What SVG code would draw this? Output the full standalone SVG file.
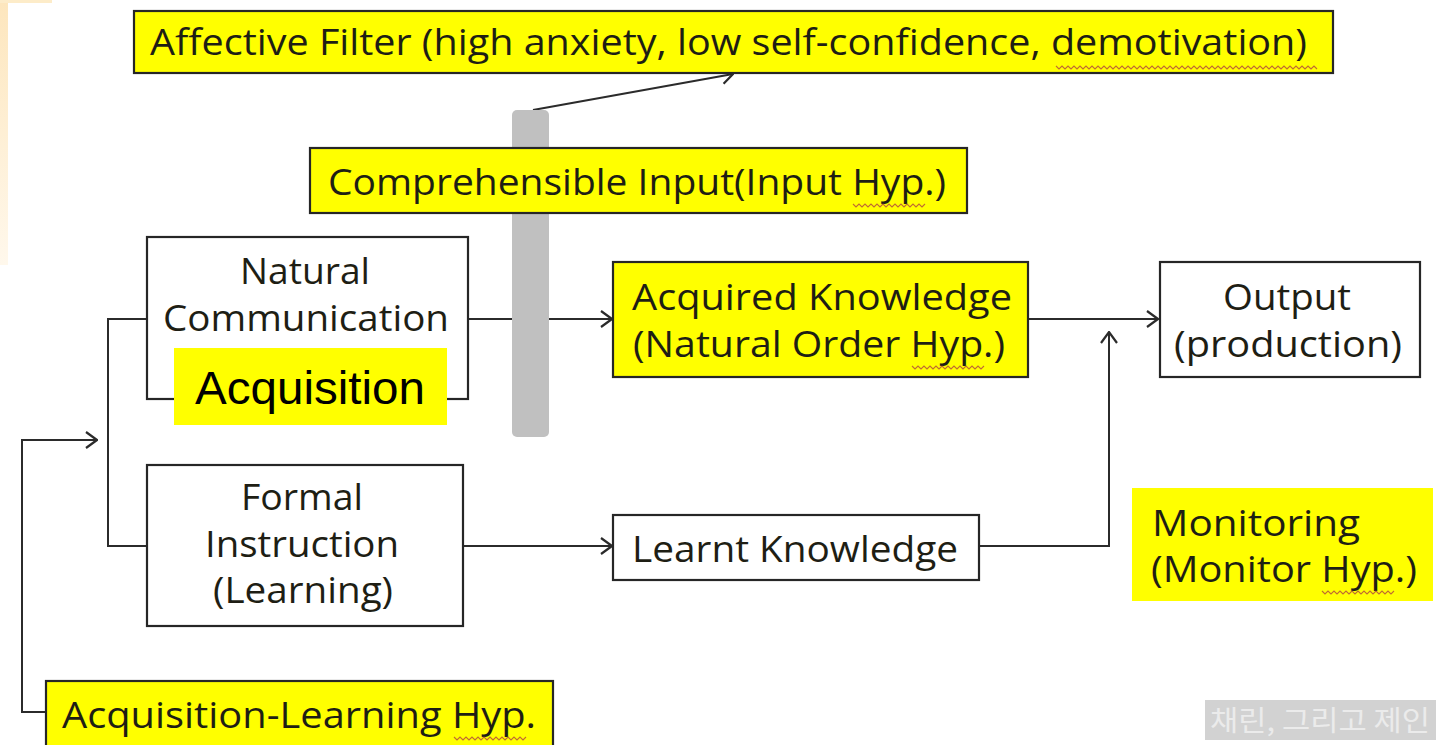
<svg xmlns="http://www.w3.org/2000/svg" width="1439" height="745" viewBox="0 0 1439 745">
  <defs>
    <style>
      .lbl { font-family: "Open Sans", "Noto Sans", "DejaVu Sans", sans-serif; font-size: 36px; fill: #1e1e14; }
      .box { stroke: #262626; stroke-width: 2.2; }
      .yel { fill: #ffff00; }
      .wht { fill: #ffffff; }
      .wire { fill: none; stroke: #2b2b2b; stroke-width: 2; }
      .squig { fill: none; stroke: #b5523a; stroke-width: 1.1; opacity: 0.85; }
    </style>
    <marker id="open" viewBox="0 0 13 18" refX="12" refY="9" markerWidth="13" markerHeight="18" markerUnits="userSpaceOnUse" orient="auto">
      <path d="M1,1 L12,9 L1,17" fill="none" stroke="#2b2b2b" stroke-width="2.2"/>
    </marker>
    <linearGradient id="edge" x1="0" y1="0" x2="0" y2="1">
      <stop offset="0" stop-color="#fde6bd"/>
      <stop offset="1" stop-color="#fff8ec"/>
    </linearGradient>
  </defs>

  <rect width="1439" height="745" fill="#ffffff"/>
  <!-- slide edge tint -->
  <rect x="0" y="0" width="8" height="265" fill="url(#edge)"/>
  <rect x="0" y="0" width="52" height="3" fill="#fdecc9"/>

  <!-- connectors -->
  <g id="connectors">
    <!-- filter bar to affective filter -->
    <line class="wire" x1="533" y1="110" x2="733" y2="74" marker-end="url(#open)"/>
    <!-- natural communication to acquired knowledge -->
    <line class="wire" x1="468" y1="319" x2="612" y2="319" marker-end="url(#open)"/>
    <!-- acquired knowledge to output -->
    <line class="wire" x1="1028" y1="319" x2="1158" y2="319" marker-end="url(#open)"/>
    <!-- formal instruction to learnt knowledge -->
    <line class="wire" x1="463" y1="546" x2="612" y2="546" marker-end="url(#open)"/>
    <!-- learnt knowledge monitoring path -->
    <polyline class="wire" points="980,546 1109,546 1109,332" marker-end="url(#open)"/>
    <!-- split bracket -->
    <polyline class="wire" points="147,319 108,319 108,546 147,546"/>
    <!-- acquisition-learning loop -->
    <polyline class="wire" points="46,712 22,712 22,440 97,440" marker-end="url(#open)"/>
  </g>

  <!-- affective filter bar -->
  <g id="filter-bar">
    <rect x="512" y="110" width="37" height="327" rx="5" fill="#c0c0c0"/>
  </g>

  <g id="affective-filter">
    <rect class="box yel" x="134" y="11" width="1199" height="62"/>
    <text class="lbl" x="150" y="55" textLength="1157" lengthAdjust="spacingAndGlyphs">Affective Filter (high anxiety, low self-confidence, demotivation)</text>
    <path class="squig" d="M1056,66 l3,3 l3,-3 l3,3 l3,-3 l3,3 l3,-3 l3,3 l3,-3 l3,3 l3,-3 l3,3 l3,-3 l3,3 l3,-3 l3,3 l3,-3 l3,3 l3,-3 l3,3 l3,-3 l3,3 l3,-3 l3,3 l3,-3 l3,3 l3,-3 l3,3 l3,-3 l3,3 l3,-3 l3,3 l3,-3 l3,3 l3,-3 l3,3 l3,-3 l3,3 l3,-3 l3,3 l3,-3 l3,3 l3,-3 l3,3 l3,-3 l3,3 l3,-3 l3,3 l3,-3 l3,3 l3,-3 l3,3 l3,-3 l3,3 l3,-3 l3,3 l3,-3 l3,3 l3,-3 l3,3 l3,-3 l3,3 l3,-3 l3,3 l3,-3 l3,3 l3,-3 l3,3 l3,-3 l3,3 l3,-3 l3,3 l3,-3 l3,3 l3,-3 l3,3 l3,-3 l3,3 l3,-3 l3,3 l3,-3 l3,3 l3,-3 l3,3 l3,-3 l3,3 l3,-3 l3,3"/>
  </g>

  <g id="comprehensible-input">
    <rect class="box yel" x="310" y="148" width="657" height="65"/>
    <text class="lbl" x="328" y="195" textLength="618" lengthAdjust="spacingAndGlyphs">Comprehensible Input(Input Hyp.)</text>
    <path class="squig" d="M853,204 l3,3 l3,-3 l3,3 l3,-3 l3,3 l3,-3 l3,3 l3,-3 l3,3 l3,-3 l3,3 l3,-3 l3,3 l3,-3 l3,3 l3,-3 l3,3 l3,-3 l3,3 l3,-3 l3,3 l3,-3 l3,3 l3,-3"/>
  </g>

  <g id="natural-communication">
    <rect class="box wht" x="147" y="237" width="321" height="162"/>
    <text class="lbl" x="305" y="284" text-anchor="middle" textLength="130" lengthAdjust="spacingAndGlyphs">Natural</text>
    <text class="lbl" x="306" y="331" text-anchor="middle" textLength="286" lengthAdjust="spacingAndGlyphs">Communication</text>
  </g>

  <g id="acquisition-tag">
    <rect x="174" y="348" width="273" height="77" fill="#ffff00"/>
    <text x="310" y="404" text-anchor="middle" font-family="'Liberation Sans', Arial, sans-serif" font-size="46" fill="#000000" textLength="230" lengthAdjust="spacingAndGlyphs">Acquisition</text>
  </g>

  <g id="formal-instruction">
    <rect class="box wht" x="147" y="465" width="316" height="161"/>
    <text class="lbl" x="302" y="510" text-anchor="middle" textLength="122" lengthAdjust="spacingAndGlyphs">Formal</text>
    <text class="lbl" x="302" y="557" text-anchor="middle" textLength="194" lengthAdjust="spacingAndGlyphs">Instruction</text>
    <text class="lbl" x="303" y="603" text-anchor="middle" textLength="180" lengthAdjust="spacingAndGlyphs">(Learning)</text>
  </g>

  <g id="acquired-knowledge">
    <rect class="box yel" x="613" y="262" width="415" height="115"/>
    <text class="lbl" x="632" y="310" textLength="380" lengthAdjust="spacingAndGlyphs">Acquired Knowledge</text>
    <text class="lbl" x="633" y="357" textLength="372" lengthAdjust="spacingAndGlyphs">(Natural Order Hyp.)</text>
    <path class="squig" d="M912,366 l3,3 l3,-3 l3,3 l3,-3 l3,3 l3,-3 l3,3 l3,-3 l3,3 l3,-3 l3,3 l3,-3 l3,3 l3,-3 l3,3 l3,-3 l3,3 l3,-3 l3,3 l3,-3 l3,3 l3,-3 l3,3 l3,-3"/>
  </g>

  <g id="output">
    <rect class="box wht" x="1160" y="262" width="260" height="115"/>
    <text class="lbl" x="1287" y="310" text-anchor="middle" textLength="128" lengthAdjust="spacingAndGlyphs">Output</text>
    <text class="lbl" x="1288" y="357" text-anchor="middle" textLength="228" lengthAdjust="spacingAndGlyphs">(production)</text>
  </g>

  <g id="learnt-knowledge">
    <rect class="box wht" x="613" y="515" width="366" height="65"/>
    <text class="lbl" x="632" y="562" textLength="326" lengthAdjust="spacingAndGlyphs">Learnt Knowledge</text>
  </g>

  <g id="monitoring">
    <rect x="1132" y="488" width="301" height="113" fill="#ffff00"/>
    <text class="lbl" x="1152" y="536" textLength="208" lengthAdjust="spacingAndGlyphs">Monitoring</text>
    <text class="lbl" x="1151" y="582" textLength="266" lengthAdjust="spacingAndGlyphs">(Monitor Hyp.)</text>
    <path class="squig" d="M1322,591 l3,3 l3,-3 l3,3 l3,-3 l3,3 l3,-3 l3,3 l3,-3 l3,3 l3,-3 l3,3 l3,-3 l3,3 l3,-3 l3,3 l3,-3 l3,3 l3,-3 l3,3 l3,-3 l3,3 l3,-3 l3,3 l3,-3"/>
  </g>

  <g id="acquisition-learning">
    <rect class="box yel" x="46" y="681" width="507" height="70"/>
    <text class="lbl" x="62" y="728" textLength="474" lengthAdjust="spacingAndGlyphs">Acquisition-Learning Hyp.</text>
    <path class="squig" d="M454,737 l3,3 l3,-3 l3,3 l3,-3 l3,3 l3,-3 l3,3 l3,-3 l3,3 l3,-3 l3,3 l3,-3 l3,3 l3,-3 l3,3 l3,-3 l3,3 l3,-3 l3,3 l3,-3 l3,3 l3,-3 l3,3 l3,-3"/>
  </g>

  <g id="watermark">
    <rect x="1205" y="700" width="231" height="40" fill="#d2d2d2"/>
    <text x="1320" y="731" text-anchor="middle" font-family="'Noto Sans CJK KR', sans-serif" font-size="28" fill="#ebebeb" textLength="220" lengthAdjust="spacingAndGlyphs">채린, 그리고 제인</text>
  </g>
</svg>
